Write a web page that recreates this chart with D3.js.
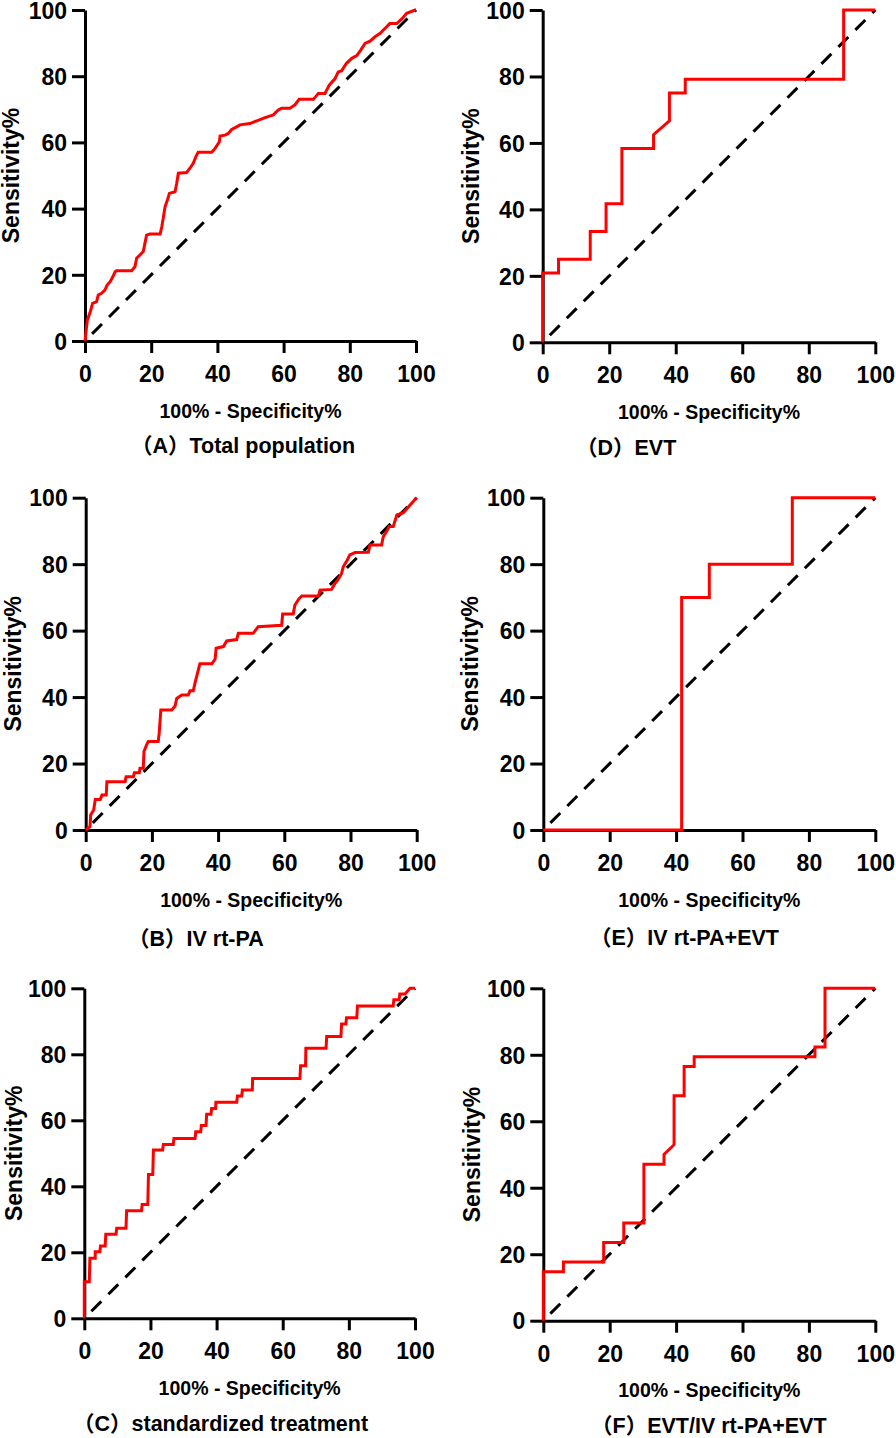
<!DOCTYPE html>
<html>
<head>
<meta charset="utf-8">
<script src="https://cdn.jsdelivr.net/npm/d3@7"></script>
<style>
  html, body { margin: 0; padding: 0; background: #fff; }
  svg { display: block; }
  text { font-family: "Liberation Sans", Arial, "Noto Sans CJK SC", sans-serif; font-weight: bold; fill: #000; }
</style>
</head>
<body>
<svg id="chart" width="896" height="1438"></svg>
<script>
// ---------------- DATA ----------------
const tickValues = [0, 20, 40, 60, 80, 100];
const xAxisTitle = "100% - Specificity%";
const yAxisTitle = "Sensitivity%";
const diagonal = [0, 100];

const captionA = "（A）Total population";
const captionB = "（B）IV rt-PA";
const captionC = "（C）standardized treatment";
const captionD = "（D）EVT";
const captionE = "（E）IV rt-PA+EVT";
const captionF = "（F）EVT/IV rt-PA+EVT";

// (A) Total population: 100% - specificity% and sensitivity%
const fprA = [0, 0.7, 1.5, 2.3, 3.5, 4.0, 5.0, 6.0, 6.7, 7.6, 8.4, 9.1, 9.5, 14.1, 15.1, 15.6, 16.6, 17.6, 18.1, 18.6,
  19.6, 22.7, 23.2, 23.7, 24.2, 24.9, 25.5, 27.2, 27.7, 28.2, 30.7, 31.7, 32.7, 33.5, 34.2, 38.3, 39.3, 40.6, 40.8,
  42.3, 43.3, 44.3, 45.8, 46.8, 49.8, 51.9, 54.4, 56.9, 58.4, 59.4, 61.9, 63.4, 64.7, 69.0, 70.5, 72.5, 73.8, 75.5,
  76.5, 77.5, 79.0, 80.6, 82.1, 83.3, 84.6, 86.1, 87.6, 89.1, 90.6, 92.1, 94.2, 95.7, 97.2, 99.7, 100];
const tprA = [0, 6.3, 8.5, 11.4, 11.9, 13.9, 14.4, 15.4, 16.9, 17.9, 19.4, 20.9, 21.2, 21.2, 22.5, 25.0, 26.0, 27.0, 29.5, 32.0,
  32.3, 32.3, 34.5, 37.5, 40.6, 42.6, 44.6, 45.1, 47.6, 50.7, 50.9, 52.2, 53.7, 55.7, 57.0, 57.0, 58.2, 60.2, 61.9,
  62.2, 62.7, 63.9, 64.7, 65.3, 65.7, 66.5, 67.5, 68.3, 69.8, 70.3, 70.3, 71.3, 73.0, 73.0, 74.8, 74.8, 77.3, 79.2,
  81.3, 81.6, 83.9, 85.4, 86.2, 87.9, 89.9, 90.6, 91.9, 92.9, 94.4, 95.9, 95.9, 97.3, 99.0, 100, 100];

// (B) IV rt-PA
const fprB = [0, 1.3, 1.5, 2.4, 2.9, 4.4, 4.9, 6.2, 6.4, 11.9, 12.2, 14.4, 14.7, 16.2, 16.4, 17.4, 17.6, 18.4, 18.9, 21.9,
  22.2, 22.7, 26.0, 27.0, 27.5, 29.0, 31.0, 31.5, 32.5, 33.0, 33.7, 34.5, 38.1, 39.1, 39.4, 41.6, 42.6, 45.6, 46.1,
  50.6, 52.1, 59.2, 59.5, 62.7, 63.2, 64.5, 65.3, 70.3, 70.8, 74.3, 75.3, 76.3, 77.3, 77.8, 79.0, 79.8, 81.4, 85.4,
  85.9, 89.4, 89.9, 90.9, 91.7, 92.9, 94.0, 96.0, 98.0, 100];
const tprB = [0, 1.0, 4.5, 6.0, 9.2, 9.2, 10.5, 10.5, 14.5, 14.5, 16.0, 16.0, 17.2, 17.2, 18.6, 18.6, 23.6, 25.6, 26.6, 26.6,
  29.1, 36.1, 36.1, 37.3, 39.6, 40.6, 40.6, 41.9, 41.9, 44.1, 46.9, 50.0, 50.0, 51.4, 54.7, 55.2, 56.9, 57.3, 59.2,
  59.2, 61.2, 61.6, 65.0, 65.0, 67.7, 69.7, 70.4, 70.4, 72.2, 72.4, 74.2, 75.4, 77.2, 79.2, 81.2, 82.8, 83.5, 83.6,
  85.8, 85.8, 88.3, 89.8, 91.3, 91.3, 94.8, 95.5, 97.8, 100];

// (C) standardized treatment
const fprC = [0, 0, 1.5, 1.7, 3.3, 3.3, 4.7, 4.9, 6.3, 6.5, 9.6, 9.8, 12.6, 12.8, 17.3, 17.5, 19.2, 19.4, 20.7, 20.9,
  23.7, 23.9, 26.9, 27.1, 33.5, 33.7, 35.2, 35.4, 36.8, 37.0, 38.3, 38.5, 39.7, 39.8, 46.1, 46.3, 47.6, 47.8, 50.8,
  50.9, 65.2, 65.4, 66.9, 67.0, 73.1, 73.3, 77.6, 77.8, 79.1, 79.3, 82.4, 82.6, 93.4, 93.6, 95.2, 95.4, 97.0, 98.5, 100];
const tprC = [0, 11.1, 11.1, 18.2, 18.2, 20.2, 20.2, 21.9, 21.9, 25.5, 25.5, 27.3, 27.3, 32.6, 32.6, 34.5, 34.5, 43.6, 43.6, 51.0,
  51.0, 52.7, 52.7, 54.5, 54.5, 56.5, 56.5, 58.4, 58.4, 61.8, 61.8, 63.6, 63.6, 65.5, 65.5, 67.4, 67.4, 69.2, 69.2,
  72.7, 72.7, 76.5, 76.5, 81.8, 81.8, 85.4, 85.4, 89.2, 89.2, 91.1, 91.1, 94.6, 94.6, 96.5, 96.5, 98.3, 98.3, 100, 100];

// (D) EVT
const fprD = [0, 0, 4.76, 4.76, 14.29, 14.29, 19.05, 19.05, 23.81, 23.81, 33.33, 33.33, 38.1, 38.1, 42.86, 42.86, 90.48, 90.48, 100];
const tprD = [0, 20.83, 20.83, 25.0, 25.0, 33.33, 33.33, 41.67, 41.67, 58.33, 58.33, 62.5, 66.67, 75.0, 75.0, 79.17, 79.17, 100, 100];

// (E) IV rt-PA+EVT
const fprE = [0, 41.67, 41.67, 50.0, 50.0, 75.0, 75.0, 100];
const tprE = [0, 0, 70.0, 70.0, 80.0, 80.0, 100, 100];

// (F) EVT/IV rt-PA+EVT
const fprF = [0, 0, 6.06, 6.06, 18.18, 18.18, 24.24, 24.24, 30.3, 30.3, 36.36, 36.36, 39.39, 39.39, 42.42, 42.42, 45.45, 45.45,
  81.82, 81.82, 84.85, 84.85, 100];
const tprF = [0, 14.71, 14.71, 17.65, 17.65, 23.53, 23.53, 29.41, 29.41, 47.06, 47.06, 50.0, 52.94, 67.65, 67.65, 76.47, 76.47, 79.41,
  79.41, 82.35, 82.35, 100, 100];

// ---------------- LAYOUT ----------------
const panels = [
  { fpr: fprA, tpr: tprA, caption: captionA, box: { l: 85, r: 416, b: 341, t: 10 },      yTitleX: 18.5, xTitleY: 418,  capX: 131, capY: 453 },
  { fpr: fprD, tpr: tprD, caption: captionD, box: { l: 542.7, r: 875.3, b: 342.3, t: 10 }, yTitleX: 478.5, xTitleY: 419, capX: 576, capY: 455 },
  { fpr: fprB, tpr: tprB, caption: captionB, box: { l: 85.7, r: 416.7, b: 830, t: 497.7 }, yTitleX: 21,  xTitleY: 907,  capX: 128, capY: 946 },
  { fpr: fprE, tpr: tprE, caption: captionE, box: { l: 543.3, r: 875.3, b: 830, t: 497.7 }, yTitleX: 478, xTitleY: 907, capX: 590, capY: 945 },
  { fpr: fprC, tpr: tprC, caption: captionC, box: { l: 84.3, r: 415, b: 1318.3, t: 988.3 }, yTitleX: 21.7, xTitleY: 1395, capX: 73, capY: 1431 },
  { fpr: fprF, tpr: tprF, caption: captionF, box: { l: 543.3, r: 875.3, b: 1320.7, t: 988.3 }, yTitleX: 480, xTitleY: 1397, capX: 591, capY: 1433 }
];

const svg = d3.select("#chart");
svg.append("rect").attr("width", 896).attr("height", 1438).attr("fill", "#fff");

panels.forEach(p => {
  const x = d3.scaleLinear().domain([0, 100]).range([p.box.l, p.box.r]);
  const y = d3.scaleLinear().domain([0, 100]).range([p.box.b, p.box.t]);
  const g = svg.append("g");

  // axes
  const yAxis = g.append("g")
    .attr("transform", `translate(${p.box.l},0)`)
    .call(d3.axisLeft(y).tickValues(tickValues).tickSize(13).tickSizeOuter(0).tickPadding(5));
  const xAxis = g.append("g")
    .attr("transform", `translate(0,${p.box.b})`)
    .call(d3.axisBottom(x).tickValues(tickValues).tickSize(12).tickSizeOuter(0));

  [yAxis, xAxis].forEach(a => {
    a.select(".domain").attr("stroke", "#000").attr("stroke-width", 3);
    a.selectAll(".tick line").attr("stroke", "#000").attr("stroke-width", 3);
    a.selectAll(".tick text")
      .style("font-family", '"Liberation Sans", Arial, sans-serif')
      .style("font-weight", "bold")
      .attr("font-size", 23)
      .attr("fill", "#000");
  });
  yAxis.selectAll(".tick text").attr("dy", "0.36em");
  xAxis.selectAll(".tick text").attr("y", 41).attr("dy", 0);

  // reference diagonal
  const line = d3.line().x(d => x(d[0])).y(d => y(d[1]));
  g.append("path")
    .attr("d", line(diagonal.map((v, i) => [diagonal[i], diagonal[i]])))
    .attr("fill", "none")
    .attr("stroke", "#000")
    .attr("stroke-width", 3)
    .attr("stroke-dasharray", "14,10")
    .attr("stroke-dashoffset", 14);

  // ROC curve
  const pts = p.fpr.map((v, i) => [v, p.tpr[i]]);
  g.append("path")
    .attr("d", line(pts))
    .attr("fill", "none")
    .attr("stroke", "#ff0000")
    .attr("stroke-width", 3)
    .attr("stroke-linejoin", "miter");

  // axis titles
  g.append("text")
    .attr("transform", `translate(${p.yTitleX},${(p.box.b + p.box.t) / 2}) rotate(-90)`)
    .attr("text-anchor", "middle")
    .attr("font-size", 23)
    .text(yAxisTitle);
  g.append("text")
    .attr("x", (p.box.l + p.box.r) / 2)
    .attr("y", p.xTitleY)
    .attr("text-anchor", "middle")
    .attr("font-size", 19.5)
    .text(xAxisTitle);

  // caption
  g.append("text")
    .attr("x", p.capX)
    .attr("y", p.capY)
    .attr("font-size", 21.5)
    .text(p.caption);
});
</script>
</body>
</html>
